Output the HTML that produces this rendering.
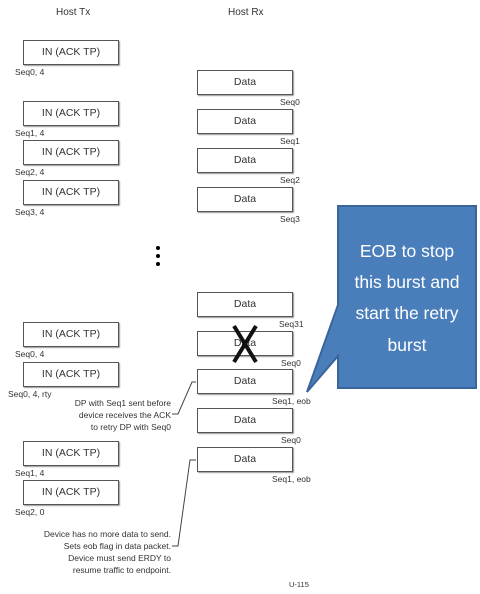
<!DOCTYPE html>
<html><head><style>
body{margin:0;width:480px;height:594px;background:#fff;overflow:hidden;position:relative;font-family:"Liberation Sans",Arial,sans-serif;}
.b{position:absolute;border:1.5px solid #555;box-sizing:border-box;font-size:10.5px;color:#333;text-align:center;box-shadow:1px 1px 1px #999;}
.t{position:absolute;font-size:8.5px;color:#333;white-space:nowrap;}
.r{text-align:right;}
</style></head><body>
<div class="t" style="left:56px;top:7px;font-size:10px">Host Tx</div>
<div class="t" style="left:228px;top:7px;font-size:10px">Host Rx</div>

<div class="b" style="left:23px;top:40px;width:96px;height:25px;line-height:22px">IN (ACK TP)</div><div class="t" style="left:15px;top:67px">Seq0, 4</div>
<div class="b" style="left:23px;top:101px;width:96px;height:25px;line-height:22px">IN (ACK TP)</div><div class="t" style="left:15px;top:128px">Seq1, 4</div>
<div class="b" style="left:23px;top:140px;width:96px;height:25px;line-height:22px">IN (ACK TP)</div><div class="t" style="left:15px;top:167px">Seq2, 4</div>
<div class="b" style="left:23px;top:180px;width:96px;height:25px;line-height:22px">IN (ACK TP)</div><div class="t" style="left:15px;top:207px">Seq3, 4</div>

<div class="b" style="left:197px;top:70px;width:96px;height:25px;line-height:22px">Data</div><div class="t" style="left:280px;top:97px">Seq0</div>
<div class="b" style="left:197px;top:109px;width:96px;height:25px;line-height:22px">Data</div><div class="t" style="left:280px;top:136px">Seq1</div>
<div class="b" style="left:197px;top:148px;width:96px;height:25px;line-height:22px">Data</div><div class="t" style="left:280px;top:175px">Seq2</div>
<div class="b" style="left:197px;top:187px;width:96px;height:25px;line-height:22px">Data</div><div class="t" style="left:280px;top:214px">Seq3</div>

<div style="position:absolute;left:156px;top:246px;width:4px;height:4px;border-radius:2px;background:#000"></div>
<div style="position:absolute;left:156px;top:254px;width:4px;height:4px;border-radius:2px;background:#000"></div>
<div style="position:absolute;left:156px;top:262px;width:4px;height:4px;border-radius:2px;background:#000"></div>

<div class="b" style="left:197px;top:292px;width:96px;height:25px;line-height:22px">Data</div><div class="t" style="left:279px;top:319px">Seq31</div>
<div class="b" style="left:197px;top:331px;width:96px;height:25px;line-height:22px">Data</div><div class="t" style="left:281px;top:358px">Seq0</div>
<div class="b" style="left:197px;top:369px;width:96px;height:25px;line-height:22px">Data</div><div class="t" style="left:272px;top:396px">Seq1, eob</div>
<div class="b" style="left:197px;top:408px;width:96px;height:25px;line-height:22px">Data</div><div class="t" style="left:281px;top:435px">Seq0</div>
<div class="b" style="left:197px;top:447px;width:96px;height:25px;line-height:22px">Data</div><div class="t" style="left:272px;top:474px">Seq1, eob</div>

<div class="b" style="left:23px;top:322px;width:96px;height:25px;line-height:22px">IN (ACK TP)</div><div class="t" style="left:15px;top:349px">Seq0, 4</div>
<div class="b" style="left:23px;top:362px;width:96px;height:25px;line-height:22px">IN (ACK TP)</div><div class="t" style="left:8px;top:389px">Seq0, 4, rty</div>
<div class="b" style="left:23px;top:441px;width:96px;height:25px;line-height:22px">IN (ACK TP)</div><div class="t" style="left:15px;top:468px">Seq1, 4</div>
<div class="b" style="left:23px;top:480px;width:96px;height:25px;line-height:22px">IN (ACK TP)</div><div class="t" style="left:15px;top:507px">Seq2, 0</div>

<div class="t r" style="right:309px;top:397px;line-height:12px">DP with Seq1 sent before<br>device receives the ACK<br>to retry DP with Seq0</div>
<div class="t r" style="right:309px;top:528px;line-height:12px">Device has no more data to send.<br>Sets eob flag in data packet.<br>Device must send ERDY to<br>resume traffic to endpoint.</div>
<div class="t" style="left:289px;top:580px;font-size:7.5px">U-115</div>

<svg width="480" height="594" style="position:absolute;left:0;top:0">
<line x1="234" y1="326" x2="256" y2="362" stroke="#111" stroke-width="4"/>
<line x1="256" y1="326" x2="234" y2="362" stroke="#111" stroke-width="4"/>
<polyline points="172,414 178,414 192,382 196,382" fill="none" stroke="#444" stroke-width="1"/>
<polyline points="172,546 178,546 190,460 196,460" fill="none" stroke="#444" stroke-width="1"/>
<polygon points="338,206 476,206 476,388 338,388 338,356 307,392 338,305" fill="#4a7ebb" stroke="#3a659a" stroke-width="2"/>
<text x="407" y="257" font-family="Liberation Sans,sans-serif" font-size="17.5" fill="#fff" text-anchor="middle">EOB to stop</text>
<text x="407" y="288" font-family="Liberation Sans,sans-serif" font-size="17.5" fill="#fff" text-anchor="middle">this burst and</text>
<text x="407" y="319" font-family="Liberation Sans,sans-serif" font-size="17.5" fill="#fff" text-anchor="middle">start the retry</text>
<text x="407" y="351" font-family="Liberation Sans,sans-serif" font-size="17.5" fill="#fff" text-anchor="middle">burst</text>
</svg>
</body></html>
